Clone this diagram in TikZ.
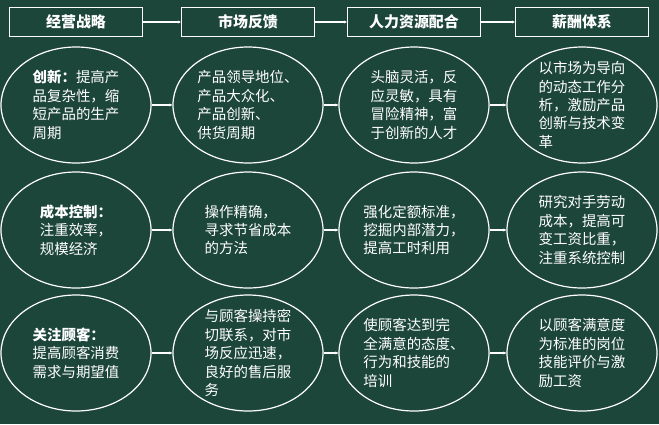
\documentclass[tikz,border=0pt]{standalone}
\usepackage{fontspec}
\newfontfamily\cjk{Noto Sans CJK SC}
\usetikzlibrary{shapes.geometric,arrows.meta}
\definecolor{bg}{HTML}{1D463A}
\begin{document}
\begin{tikzpicture}[x=1bp,y=-1bp,
  hdr/.style={draw=white,line width=1.2bp,minimum width=133bp,minimum height=29bp,font=\cjk\bfseries\fontsize{15}{18}\selectfont,text=white},
  ell/.style={draw=white,line width=1.2bp,ellipse,minimum width=150bp,minimum height=116bp,inner sep=0pt},
  txt/.style={text=white,align=left,font=\cjk\fontsize{14.5}{18.5}\selectfont},
  con/.style={draw=white,line width=1.2bp,-{Stealth[length=3bp,width=3bp]}}]
\fill[bg] (0,0) rectangle (659,424);
\useasboundingbox (0,0) rectangle (659,424);
\node[hdr] (h1) at (76,22) {经营战略};
\node[hdr] (h2) at (248,22) {市场反馈};
\node[hdr] (h3) at (414,22) {人力资源配合};
\node[hdr] (h4) at (582,22) {薪酬体系};
\foreach \a/\b in {h1/h2,h2/h3,h3/h4} \draw[con] (\a) -- (\b);
\foreach \r/\y in {1/105,2/230,3/353}{
  \foreach \c/\x in {1/76,2/248,3/414,4/582}{
    \node[ell] (e\r\c) at (\x,\y) {};
  }
  \draw[con] (e\r1) -- (e\r2);
  \draw[con] (e\r2) -- (e\r3);
  \draw[con] (e\r3) -- (e\r4);
}
\node[txt] at (e11) {\textbf{创新：}提高产\\品复杂性，缩\\短产品的生产\\周期};
\node[txt] at (e12) {产品领导地位、\\产品大众化、\\产品创新、\\供货周期};
\node[txt] at (e13) {头脑灵活，反\\应灵敏，具有\\冒险精神，富\\于创新的人才};
\node[txt] at (e14) {以市场为导向\\的动态工作分\\析，激励产品\\创新与技术变\\革};
\node[txt] at (e21) {\textbf{成本控制：}\\注重效率，\\规模经济};
\node[txt] at (e22) {操作精确，\\寻求节省成本\\的方法};
\node[txt] at (e23) {强化定额标准，\\挖掘内部潜力，\\提高工时利用};
\node[txt] at (e24) {研究对手劳动\\成本，提高可\\变工资比重，\\注重系统控制};
\node[txt] at (e31) {\textbf{关注顾客：}\\提高顾客消费\\需求与期望值};
\node[txt] at (e32) {与顾客操持密\\切联系，对市\\场反应迅速，\\良好的售后服\\务};
\node[txt] at (e33) {使顾客达到完\\全满意的态度、\\行为和技能的\\培训};
\node[txt] at (e34) {以顾客满意度\\为标准的岗位\\技能评价与激\\励工资};
\end{tikzpicture}
\end{document}
